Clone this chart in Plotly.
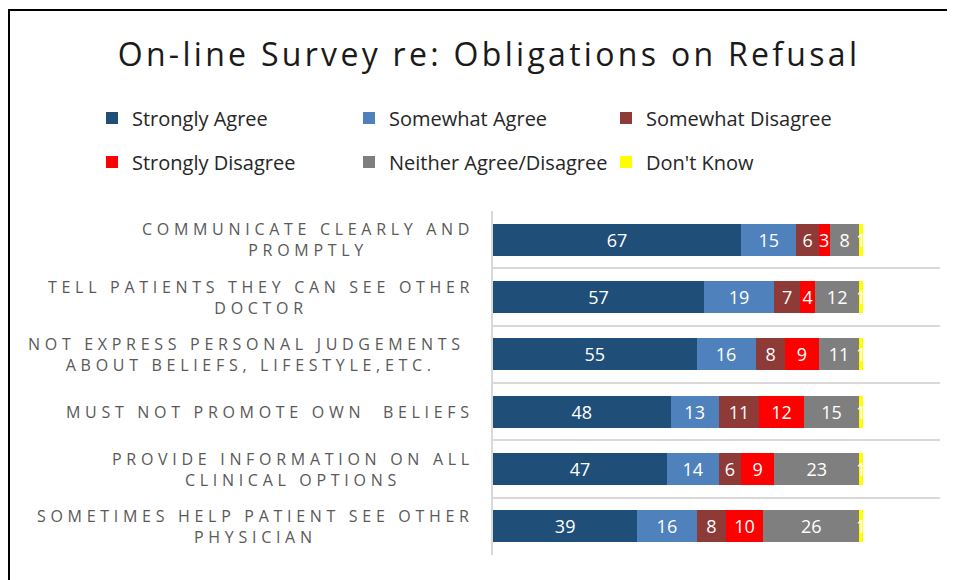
import plotly.graph_objects as go

categories = [
    "COMMUNICATE CLEARLY AND<br>PROMPTLY",
    "TELL PATIENTS THEY CAN SEE OTHER<br>DOCTOR",
    "NOT EXPRESS PERSONAL JUDGEMENTS <br>ABOUT BELIEFS, LIFESTYLE,ETC.",
    "MUST NOT PROMOTE OWN  BELIEFS",
    "PROVIDE INFORMATION ON ALL<br>CLINICAL OPTIONS",
    "SOMETIMES HELP PATIENT SEE OTHER<br>PHYSICIAN",
]
strongly_agree = [67, 57, 55, 48, 47, 39]
somewhat_agree = [15, 19, 16, 13, 14, 16]
somewhat_disagree = [6, 7, 8, 11, 6, 8]
strongly_disagree = [3, 4, 9, 12, 9, 10]
neither = [8, 12, 11, 15, 23, 26]
dont_know = [1, 1, 1, 1, 1, 1]

series = [
    ("Strongly Agree", strongly_agree, "#1F4E79", "legend"),
    ("Somewhat Agree", somewhat_agree, "#4F81BD", "legend"),
    ("Somewhat Disagree", somewhat_disagree, "#8E3B38", "legend"),
    ("Strongly Disagree", strongly_disagree, "#FF0000", "legend2"),
    ("Neither Agree/Disagree", neither, "#7F7F7F", "legend2"),
    ("Don't Know", dont_know, "#FFFF00", "legend2"),
]

W, H = 955, 580
ML, MR, MT, MB = 485, 23, 203, 33
PW, PH = W - ML - MR, H - MT - MB

FONT = "Open Sans"

fig = go.Figure()
for name, vals, color, lg in series:
    fig.add_trace(go.Bar(
        y=categories, x=vals, name=name, orientation="h",
        marker=dict(color=color, line=dict(width=0)),
        text=vals, textposition="inside", insidetextanchor="middle",
        textangle=0, textfont=dict(color="white", size=18, family=FONT),
        legend=lg, hoverinfo="x+name",
    ))

def fx(px):
    return (px - ML) / PW

def fy(py):
    return (H - MB - py) / PH

SP = '<span style="letter-spacing:4.7px">'
annotations = []
for cat in categories:
    annotations.append(dict(
        x=0, xref="paper", y=cat, yref="y", xanchor="right", yanchor="middle",
        xshift=-17, align="center", showarrow=False,
        text=SP + cat.replace("<br>", "</span><br>" + SP) + "</span>",
        font=dict(size=16, color="#595959", family=FONT),
    ))

shapes = [
    dict(type="line", xref="paper", yref="paper",
         x0=fx(0), x1=fx(W + 2), y0=fy(2), y1=fy(2),
         line=dict(color="black", width=2)),
    dict(type="line", xref="paper", yref="paper",
         x0=fx(1), x1=fx(1), y0=fy(2), y1=fy(H + 2),
         line=dict(color="black", width=2)),
]

legend_common = dict(
    orientation="h", xref="paper", yref="paper", xanchor="left", yanchor="middle",
    entrywidth=212, entrywidthmode="pixels", itemwidth=30,
    font=dict(size=20, color="#262626", family=FONT),
    bgcolor="rgba(0,0,0,0)", traceorder="normal",
)

fig.update_layout(
    width=W, height=H,
    margin=dict(l=ML, r=MR, t=MT, b=MB, autoexpand=False),
    paper_bgcolor="white", plot_bgcolor="white",
    barmode="stack", bargap=0.44,
    title=dict(
        text='<span style="letter-spacing:3.3px">On-line Survey re: Obligations on Refusal</span>',
        x=481 / W, xanchor="center", xref="container",
        y=1 - 47 / H, yanchor="middle", yref="container",
        font=dict(size=32, color="#1a1a1a", family=FONT),
    ),
    legend=dict(legend_common, x=fx(84), y=fy(110)),
    legend2=dict(legend_common, x=fx(84), y=fy(154)),
    uniformtext=dict(minsize=18, mode="show"),
    xaxis=dict(range=[0, 120.8], showticklabels=False, showgrid=False,
               zeroline=False, showline=False, ticks="", fixedrange=True),
    yaxis=dict(autorange="reversed", showticklabels=False, tickson="boundaries",
               showgrid=True, gridcolor="#D9D9D9", gridwidth=1.5, ticks="",
               showline=True, linecolor="#D9D9D9", linewidth=1.5, zeroline=False),
    annotations=annotations,
    shapes=shapes,
    font=dict(family=FONT),
)

fig.write_html("out.html")
